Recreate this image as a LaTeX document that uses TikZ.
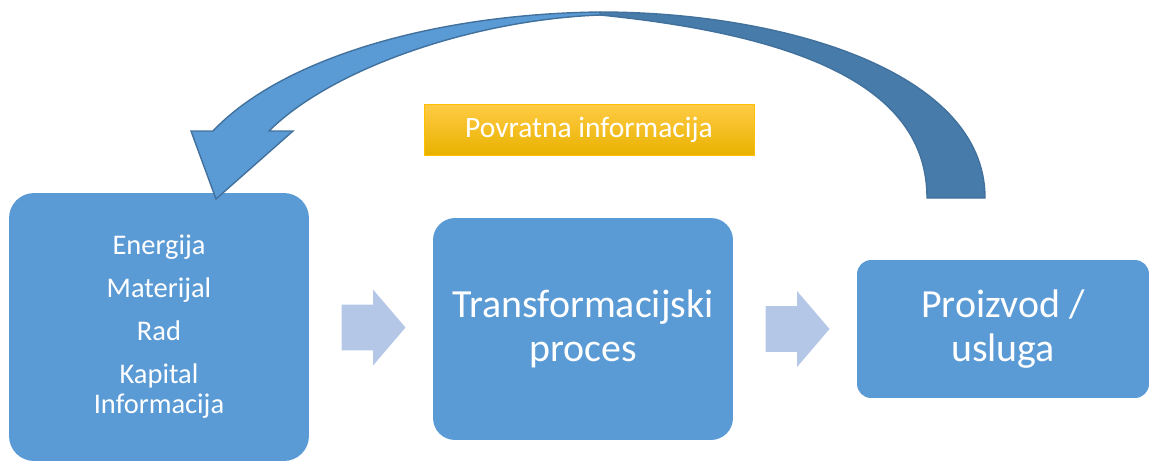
\documentclass[tikz,border=0pt]{standalone}
\usepackage{fontspec}
\setmainfont{Carlito}
\usetikzlibrary{shapes.arrows,calc}
\definecolor{boxblue}{HTML}{5B9BD5}
\definecolor{edgeblue}{HTML}{41719C}
\definecolor{backblue}{HTML}{477BAA}
\definecolor{paleblue}{HTML}{B4C7E7}
\definecolor{goldtop}{HTML}{FFCB45}
\definecolor{goldmid}{HTML}{FFC000}
\definecolor{goldbot}{HTML}{E9B200}

\begin{document}
\begin{tikzpicture}
      [ x = 0.02cm, y = -0.02cm
      , block/.style =
        { fill = boxblue, text = white, align = center, inner sep = 0pt }
      , big/.style =
        { font = \fontsize{22.7}{25}\selectfont }
      , small/.style =
        { font = \fontsize{16.2}{17}\selectfont }
      , flow/.style =
        { single arrow, fill = paleblue, inner xsep = 0pt, inner ysep = 0.45cm
        , minimum height = 1.28cm, minimum width = 1.5cm, anchor = tail
        , single arrow head extend = 0.3cm, single arrow tip angle = 99 }
      , ribbon/.style =
        { draw = edgeblue, line width = 0.8pt, line join = miter }
      , feedback/.style =
        { draw = goldmid, top color = goldtop, middle color = goldmid, bottom color = goldbot
        , text = white, inner sep = 0pt, minimum width = 6.6cm, minimum height = 1.02cm
        , font = \fontsize{16.8}{19}\selectfont }
      ]
      \useasboundingbox (0,0) rectangle (1149,461);
      \node [block,small,rounded corners=0.5cm,minimum width=6cm,minimum height=5.36cm] (inputs) at (159,327)
        {Energija\\[7.5pt] Materijal\\[7.5pt] Rad\\[7.5pt] Kapital\\ Informacija};
      \node [block,big,rounded corners=0.44cm,minimum width=6cm,minimum height=4.44cm] (process) at (583,329)
        {Transformacijski\\ proces};
      \node [block,big,rounded corners=0.28cm,minimum width=5.84cm,minimum height=2.76cm] (output) at (1003,329)
        {Proizvod /\\ usluga};
      \node [flow] (step1) at ($(inputs.east)!0.258!(process.west)$) {};
      \node [flow] (step2) at ($(process.east)!0.258!(output.west)$) {};
      \node [feedback] (info) at (589,129.5) {Povratna informacija};
      \coordinate (topout) at (600,12);
      \coordinate (topin) at (600,15);
      \coordinate (tailout) at (985,198);
      \coordinate (tailin) at (927,198);
      \coordinate (tip) at (216,199);
      \filldraw [ribbon,fill=backblue] (topout) .. controls (780,12) and (985,70) .. (tailout)
        -- (tailin) .. controls (927,110) and (850,40) .. (topin) -- cycle;
      \filldraw [ribbon,fill=boxblue] (topout) .. controls (430,14) and (280,60) .. (213,131)
        -- (191,131) -- (tip) -- (293,131) -- (269,131)
        .. controls (330,70) and (470,20) .. (topin) -- cycle;
    \end{tikzpicture}
\end{document}
